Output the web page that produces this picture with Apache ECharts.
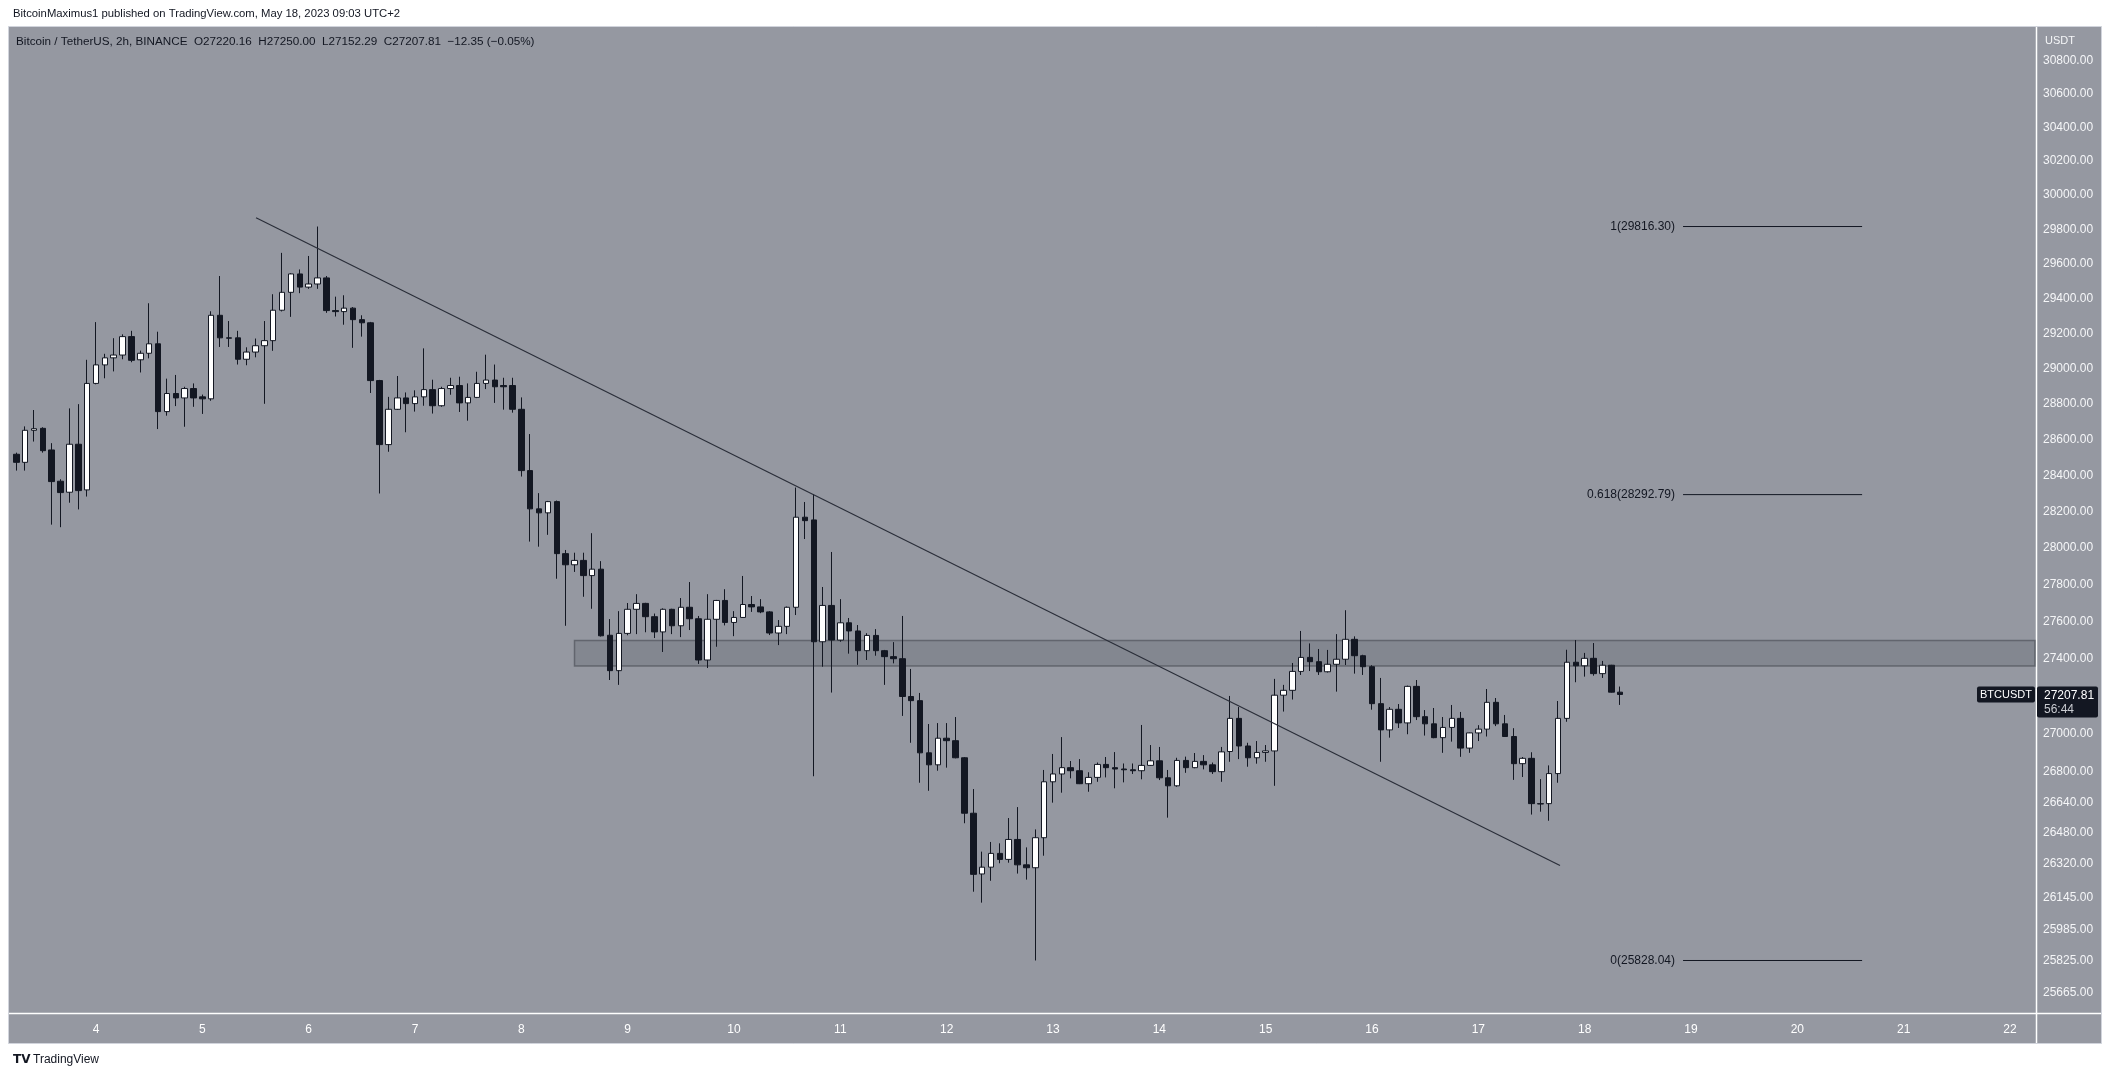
<!DOCTYPE html>
<html>
<head>
<meta charset="utf-8">
<script src="https://cdn.jsdelivr.net/npm/echarts@6/dist/echarts.min.js"></script>
<style>html,body{margin:0;padding:0;background:#fff;}#c{width:2112px;height:1079px;}</style>
</head>
<body>
<div id="c"></div>
<script>
// ---- DATA (BTC/USDT, 2h candles, times in days of May 2023, UTC+2) ----
const firstCandleDay = 3.25;      // May 3, 06:00
const candleStepDays = 1 / 12;    // 2 hours

const opens = [
28517,28472,28651,28662,28541,28367,28306,28573,28319,28915,
29020,29060,29076,29181,29049,29086,29140,28756,28858,28833,
28886,28839,28828,29303,29174,29174,29052,29093,29129,29158,
29332,29435,29541,29465,29483,29518,29330,29324,29344,29278,
29260,28931,28571,28769,28833,28801,28839,28880,28789,28886,
28903,28805,28836,28915,28934,28903,28903,28769,28426,28214,
28192,28254,27968,27907,27931,27848,27883,27525,27335,27535,
27665,27697,27625,27543,27665,27576,27676,27614,27392,27611,
27713,27594,27621,27691,27678,27651,27537,27573,27676,28168,
28153,27490,27686,27499,27592,27548,27442,27524,27442,27410,
27399,27197,27175,26899,26836,26976,26963,26873,26583,26269,
26304,26375,26344,26447,26316,26301,26456,26747,26788,26821,
26805,26737,26770,26838,26821,26814,26810,26805,26833,26857,
26768,26726,26859,26821,26854,26836,26800,26906,27081,26935,
26873,26901,26909,27204,27230,27331,27406,27383,27329,27369,
27396,27503,27415,27356,27159,27020,27129,27057,27251,27090,
27052,26979,27033,27081,26924,27004,27024,27166,27052,26985,
26842,26870,26633,26633,26790,27081,27380,27361,27401,27319,
27364,27220.16
];
const highs = [
28526,28673,28765,28668,28579,28378,28774,28798,29049,29264,
29083,29172,29194,29214,29101,29372,29209,28942,28963,28896,
28915,28852,29326,29529,29270,29214,29120,29170,29270,29424,
29663,29545,29567,29645,29816.30,29529,29410,29418,29350,29303,
29265,28935,28839,28957,28864,28876,29114,28936,28896,28947,
28953,28915,28981,29078,29022,28947,28947,28836,28630,28301,
28258,28260,27988,27973,27973,28080,27927,27612,27655,27699,
27747,27700,27642,27670,27668,27726,27813,27629,27747,27716,
27774,27655,27846,27737,27720,27655,27607,27680,28332,28252,
28296,27786,27977,27720,27618,27580,27536,27558,27446,27488,
27629,27344,27216,27051,27056,27056,27088,26877,26709,26384,
26434,26427,26558,26615,26406,26499,26809,26893,26982,26856,
26866,26797,26848,26877,26903,26843,26843,27046,26940,26930,
26809,26873,26879,26898,26887,26848,26930,27200,27141,26952,
26961,26940,27291,27259,27376,27548,27481,27451,27446,27531,
27660,27519,27420,27364,27296,27141,27157,27255,27285,27125,
27136,27088,27152,27115,27006,27045,27237,27189,27099,27029,
26877,26902,26761,26833,27173,27447,27499,27430,27483,27387,
27366,27250.00
];
const lows = [
28426,28426,28588,28526,28127,28113,28248,28211,28282,28910,
28944,28983,29052,29035,28977,29057,28658,28733,28787,28671,
28783,28743,28817,29122,29122,29022,29018,29063,28800,29100,
29325,29294,29430,29455,29455,29317,29296,29249,29117,29181,
28861,28299,28531,28765,28640,28756,28789,28745,28783,28851,
28754,28705,28832,28883,28805,28767,28750,28393,28034,28006,
28071,27831,27576,27868,27733,27668,27518,27285,27259,27525,
27531,27541,27510,27435,27531,27515,27553,27371,27349,27463,
27578,27520,27618,27651,27644,27526,27472,27531,27634,28048,
26776,27356,27218,27490,27426,27366,27392,27415,27259,27374,
27094,26952,26742,26700,26805,26821,26870,26531,26178,26122,
26234,26324,26327,26271,26240,25828.04,26363,26638,26690,26765,
26735,26695,26747,26770,26713,26744,26788,26760,26830,26756,
26560,26721,26794,26818,26812,26788,26747,26852,26866,26826,
26842,26852,26726,27117,27181,27312,27333,27312,27325,27223,
27365,27319,27312,27127,26852,26979,27030,26997,27072,26990,
26976,26899,26958,26878,26899,26961,26985,27040,26983,26757,
26772,26576,26591,26544,26742,27063,27273,27303,27308,27296,
27218,27152.29
];
const closes = [
28472,28651,28660,28537,28365,28304,28573,28315,28915,29020,
29060,29076,29181,29046,29086,29140,28756,28858,28833,28886,
28833,28828,29303,29174,29172,29052,29093,29129,29158,29332,
29435,29541,29465,29483,29518,29330,29324,29344,29278,29260,
28931,28571,28769,28833,28801,28839,28880,28789,28886,28903,
28805,28836,28915,28934,28896,28896,28769,28426,28214,28192,
28254,27968,27907,27931,27848,27883,27522,27335,27535,27665,
27697,27625,27543,27665,27576,27676,27614,27392,27611,27713,
27594,27621,27691,27678,27651,27537,27573,27676,28168,28149,
27490,27686,27499,27592,27548,27442,27524,27442,27410,27399,
27197,27175,26899,26836,26976,26963,26873,26583,26267,26304,
26375,26344,26447,26316,26301,26456,26747,26788,26821,26805,
26737,26770,26838,26821,26814,26810,26805,26833,26857,26768,
26726,26859,26821,26854,26836,26800,26904,27081,26935,26873,
26901,26909,27204,27230,27331,27406,27383,27329,27369,27396,
27503,27415,27356,27159,27020,27129,27057,27251,27090,27052,
26979,27033,27081,26924,27004,27024,27166,27052,26985,26842,
26870,26633,26631,26790,27081,27380,27361,27401,27319,27364,
27220.16,27207.81
];

const dayTicks = [4,5,6,7,8,9,10,11,12,13,14,15,16,17,18,19,20,21,22];
const priceTicks = [30800,30600,30400,30200,30000,29800,29600,29400,29200,29000,
  28800,28600,28400,28200,28000,27800,27600,27400,27000,26800,26640,26480,26320,
  26145,25985,25825,25665];

// drawings
const trendDays = [5.505, 17.768];
const trendPrices = [29868, 26313];
const fibRatios = ['1', '0.618', '0'];
const fibPrices = [29816.30, 28292.79, 25828.04];
const fibDays = [18.925, 20.609];
const zoneDays = [8.5, 22.235];
const zonePrices = [27497, 27360];

const headerText = 'BitcoinMaximus1 published on TradingView.com, May 18, 2023 09:03 UTC+2';
const legendText = 'Bitcoin / TetherUS, 2h, BINANCE  O27220.16  H27250.00  L27152.29  C27207.81  \u221212.35 (\u22120.05%)';
const symbolName = 'BTCUSDT';
const countdown = '56:44';

// ---- view range ----
const xMin = 3.1912, xMax = 22.235;
const yMin = 25564.1, yMax = 31003.2;

const FONT = '"Liberation Sans", "DejaVu Sans", sans-serif';
const DARK = '#131722';

const candles = opens.map((o, i) => [firstCandleDay + i * candleStepDays, o, closes[i], lows[i], highs[i]]);

const series = [
  {
    type: 'line', data: [], z: 1, silent: true, xAxisIndex: 0, yAxisIndex: 0,
    markArea: {
      silent: true,
      itemStyle: { color: 'rgba(19,23,34,0.13)', borderColor: 'rgba(70,73,82,0.6)', borderWidth: 1.5 },
      label: { show: false },
      data: [[{ coord: [zoneDays[0], zonePrices[0]] }, { coord: [zoneDays[1], zonePrices[1]] }]]
    }
  },
  {
    type: 'candlestick', name: 'BTCUSDT', xAxisIndex: 0, yAxisIndex: 0, z: 3,
    barWidth: 6,
    data: candles,
    itemStyle: {
      color: '#ffffff', color0: DARK,
      borderColor: DARK, borderColor0: DARK, borderColorDoji: DARK,
      borderWidth: 1
    }
  },
  {
    type: 'line', xAxisIndex: 0, yAxisIndex: 0, z: 4, silent: true,
    symbol: 'none',
    lineStyle: { color: '#2a2e39', width: 1.2 },
    data: trendDays.map((d, i) => [d, trendPrices[i]])
  }
];
fibPrices.forEach((p, k) => {
  series.push({
    type: 'line', xAxisIndex: 0, yAxisIndex: 0, z: 4, silent: true,
    symbol: 'circle', symbolSize: 0, showSymbol: true,
    lineStyle: { color: DARK, width: 1 },
    data: [
      { value: [fibDays[0], p], label: { show: true, position: 'left', distance: 8,
        formatter: fibRatios[k] + '(' + p.toFixed(2) + ')', color: DARK,
        fontFamily: FONT, fontSize: 12 } },
      { value: [fibDays[1], p] }
    ]
  });
});

const option = {
  animation: false,
  backgroundColor: '#ffffff',
  grid: { left: 10, top: 27, width: 2025, height: 986, outerBoundsMode: 'none', containLabel: false, show: false },
  xAxis: [{
    type: 'value', min: xMin, max: xMax,
    axisLine: { show: false }, axisTick: { show: false }, splitLine: { show: false },
    axisLabel: { customValues: dayTicks, color: '#ffffff', fontFamily: FONT, fontSize: 12, margin: 11,
      formatter: v => String(Math.round(v)) }
  }],
  yAxis: [
    { type: 'log', logBase: 10, min: yMin, max: yMax, position: 'right',
      axisLine: { show: false }, axisTick: { show: false }, splitLine: { show: false }, axisLabel: { show: false } },
    { type: 'value', min: Math.log(yMin), max: Math.log(yMax), position: 'right',
      axisLine: { show: false }, axisTick: { show: false }, splitLine: { show: false },
      axisLabel: { customValues: priceTicks.map(Math.log), color: '#f5f6f8', fontFamily: FONT, fontSize: 12, margin: 8,
        formatter: v => Math.exp(v).toFixed(2) } }
  ],
  series: series
};

const chart = echarts.init(document.getElementById('c'), null, { renderer: 'canvas' });
chart.setOption(option);

const lastClose = closes[closes.length - 1];
const yLast = chart.convertToPixel({ yAxisIndex: 0 }, lastClose);

const graphics = [
  { type: 'rect', id: 'bg', z: -100, silent: true, shape: { x: 8.5, y: 26.5, width: 2093, height: 1017 },
    style: { fill: '#9598a1', stroke: '#d1d4dc', lineWidth: 1 } },
  { type: 'line', id: 'vsep', z: -90, silent: true, shape: { x1: 2036.5, y1: 27, x2: 2036.5, y2: 1043 },
    style: { stroke: '#ffffff', lineWidth: 1.5 } },
  { type: 'line', id: 'hsep', z: -90, silent: true, shape: { x1: 9, y1: 1013.5, x2: 2101, y2: 1013.5 },
    style: { stroke: '#ffffff', lineWidth: 1.5 } },
  { type: 'text', id: 'hdr', x: 13, y: 14, silent: true,
    style: { text: headerText, fill: DARK, font: '11.3px ' + FONT, textVerticalAlign: 'middle' } },
  { type: 'text', id: 'leg', x: 16, y: 42, silent: true,
    style: { text: legendText, fill: DARK, font: '11.7px ' + FONT, textVerticalAlign: 'middle' } },
  { type: 'text', id: 'usdt', x: 2045, y: 41, silent: true,
    style: { text: 'USDT', fill: '#f5f6f8', font: '11px ' + FONT, textVerticalAlign: 'middle' } },
  { type: 'rect', id: 'symbox', z: 50, silent: true, shape: { x: 1977, y: yLast - 8, width: 58, height: 16, r: 2 },
    style: { fill: DARK } },
  { type: 'text', id: 'symtxt', z: 51, x: 2006, y: yLast, silent: true,
    style: { text: symbolName, fill: '#ffffff', font: '11px ' + FONT, textAlign: 'center', textVerticalAlign: 'middle' } },
  { type: 'rect', id: 'pbox', z: 50, silent: true, shape: { x: 2037, y: yLast - 8, width: 61, height: 31, r: 2 },
    style: { fill: DARK } },
  { type: 'text', id: 'ptxt', z: 51, x: 2044, y: yLast + 1, silent: true,
    style: { text: lastClose.toFixed(2), fill: '#ffffff', font: '12px ' + FONT, textVerticalAlign: 'middle' } },
  { type: 'text', id: 'ctxt', z: 51, x: 2044, y: yLast + 15, silent: true,
    style: { text: countdown, fill: '#c9cbd1', font: '12px ' + FONT, textVerticalAlign: 'middle' } },
  { type: 'text', id: 'logo', x: 13, y: 1060, silent: true,
    style: { text: 'TV', fill: DARK, font: 'bold 12px "DejaVu Sans", sans-serif', textVerticalAlign: 'middle' } },
  { type: 'text', id: 'brand', x: 33, y: 1060, silent: true,
    style: { text: 'TradingView', fill: DARK, font: '12px ' + FONT, textVerticalAlign: 'middle' } }
];
chart.setOption({ graphic: { elements: graphics } });
</script>
</body>
</html>
